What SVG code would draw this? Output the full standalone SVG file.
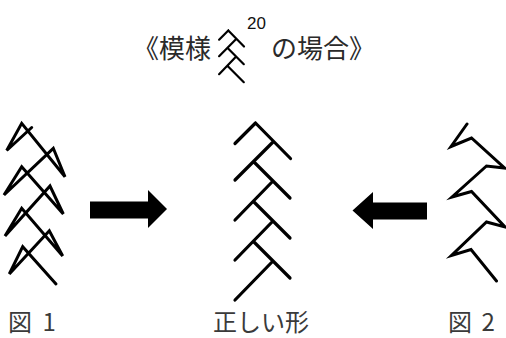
<svg xmlns="http://www.w3.org/2000/svg" width="506" height="338" viewBox="0 0 506 338">
<style>
.ln{fill:none;stroke:#000;stroke-width:3.2;stroke-linecap:round;stroke-linejoin:miter}
.ic{fill:none;stroke:#000;stroke-width:2.2;stroke-linecap:round}
.zz{fill:none;stroke:#000;stroke-width:3;stroke-linejoin:miter;stroke-miterlimit:6;stroke-linecap:round}
.t{font-family:"Noto Sans CJK JP","Noto Sans",sans-serif;fill:#2a2a2a}
.lab{font-family:"Noto Sans CJK JP","Noto Sans",sans-serif;fill:#3a3a3a;font-size:24px}
.arr{fill:#000}
</style>
<rect width="506" height="338" fill="#fff"/>
<g id="title">
<text class="t" x="133" y="57.5" font-size="26">《模様</text>
<g id="title-icon">
<path class="ic" d="M228.3,30.5L244,46.5M228.3,30.5L219.1,39.7M236.2,39L219.1,56.2M227.6,48L243.8,64.2M235.7,57L219.1,74.2M227.6,66L243.8,82.2"/>
</g>
<text x="247" y="28.5" font-family="Liberation Sans, Arial, sans-serif" font-size="17" fill="#111">20</text>
<text class="t" x="271" y="57.5" font-size="26">の場合》</text>
</g>
<g id="fig1">
<polyline class="zz" points="31.7,127.5 6.7,150.5 21.7,123.3 65,176.7 53.3,148.3 4,195 21.7,166.7 63.3,214 50,186 5,236 21.7,208.3 62.7,256 49.3,230.7 9.3,274 22.7,246.7 56,284"/>
</g>
<g id="correct">
<path class="ln" d="M255.5,123L290.5,158.5M255.5,123L235,143.5M273,142L235,180M254,162L290,198M272,182L235,220M254,202L290,238M272,222L235,260M254,242L290,278M272,262L235,300"/>
</g>
<g id="fig2">
<polyline class="zz" points="467,124 451,146.5 471.5,138 504.5,168 486.5,166 452,197 471.5,191.5 505,227 486.5,222 451.5,255.5 471,249.5 496.5,281"/>
</g>
<g id="connectors">
<polygon class="arr" points="90,201.5 148,201.5 148,190 167,209 148,228 148,218.5 90,218.5"/>
<polygon class="arr" points="427,202.5 373,202.5 373,192 352.5,210.5 373,229 373,219.5 427,219.5"/>
</g>
<g id="labels">
<text class="lab" x="8" y="331" word-spacing="5">図 1</text>
<text class="lab" x="213" y="331">正しい形</text>
<text class="lab" x="448" y="331" word-spacing="4">図 2</text>
</g>
</svg>
